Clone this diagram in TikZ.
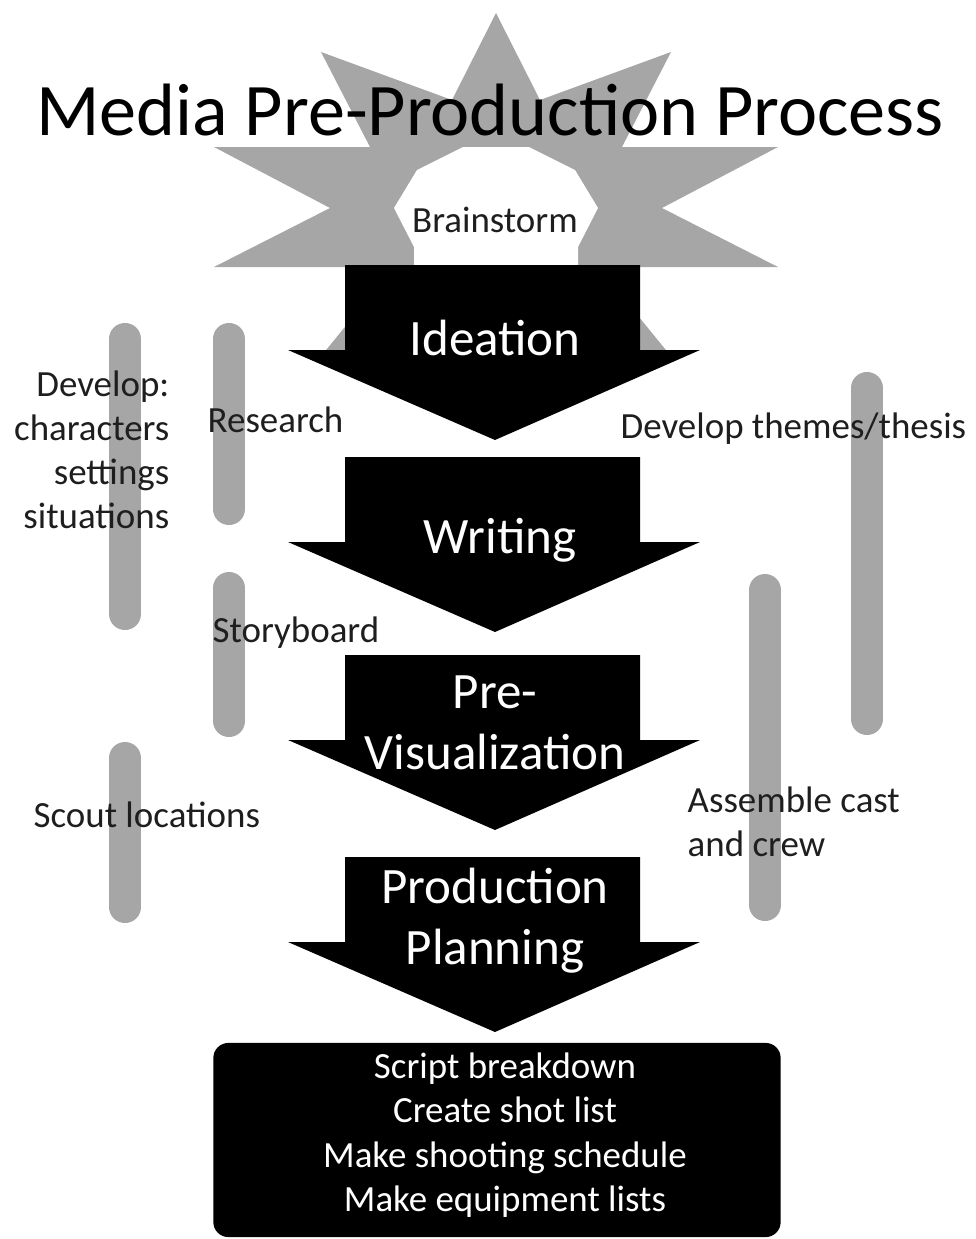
\documentclass[tikz,border=0pt]{standalone}
\usepackage{fontspec}
\setmainfont{Carlito}
\usetikzlibrary{positioning}
\definecolor{burstgray}{HTML}{A6A6A6}
\definecolor{bargray}{HTML}{A6A6A6}
\definecolor{inkgray}{HTML}{1E1E1E}
\tikzstyle{stage} = [fill=black]
\tikzstyle{stagetext} = [text=white, inner sep=0pt, align=center,
    font=\fontsize{14.5}{17.4}\selectfont]
\tikzstyle{bar} = [draw=bargray, line width=0.32cm, line cap=round]
\tikzstyle{task} = [text=inkgray, inner sep=0pt,
    font=\fontsize{10.5}{12.5}\selectfont]
\tikzstyle{checklist} = [rectangle, rounded corners=0.15cm, fill=black,
    minimum width=5.67cm, minimum height=1.94cm]
\tikzstyle{checktext} = [text=white, inner sep=0pt, align=center,
    font=\fontsize{10.5}{12.6}\selectfont]

\begin{document}
\begin{tikzpicture}[x=0.01cm, y=-0.01cm]
    \useasboundingbox (0,0) rectangle (976,1239);

    % Starburst behind the title
    \fill[burstgray] (496,13) -- (540,100) -- (671,52) -- (622,147) -- (778,147)
        -- (662,208) -- (778,267) -- (598,267) -- (670,355) -- (322,355)
        -- (394,267) -- (214,267) -- (330,208) -- (214,147) -- (370,147)
        -- (321,52) -- (452,100) -- cycle;
    \fill[white] (463,147) -- (529,147) -- (575,170) -- (598,208) -- (578,247)
        -- (578,300) -- (414,300) -- (414,247) -- (394,208) -- (417,170) -- cycle;

    % Place title and brainstorm
    \node[anchor=base, inner sep=0pt, font=\fontsize{21.1}{25}\selectfont] (title)
        at (490,135) {Media Pre-Production Process};
    \node[task, anchor=base] (brainstorm) at (495,232) {Brainstorm};

    % Draw stage arrows
    \foreach \ytop in {265,457,655,857}
        \fill[stage] (345,\ytop) -- (640,\ytop) -- (640,\ytop+85) -- (700,\ytop+85)
            -- (495,\ytop+175) -- (288,\ytop+85) -- (345,\ytop+85) -- cycle;

    % Place stage names
    \node[stagetext, anchor=base] (ideation) at (495,355) {Ideation};
    \node[stagetext, anchor=base] (writing) at (500,553) {Writing};
    \node[stagetext, anchor=north] (previs) at (495,675) {Pre-\\Visualization};
    \node[stagetext, anchor=north] (planning) at (495,867) {Production\\Planning};

    % Draw side bars
    \draw[bar] (125,339) -- (125,614);
    \draw[bar] (229,339) -- (229,509);
    \draw[bar] (229,588) -- (229,721);
    \draw[bar] (125,758) -- (125,907);
    \draw[bar] (867,388) -- (867,719);
    \draw[bar] (765,590) -- (765,905);

    % Place side tasks
    \node[task, anchor=north east, align=right] (develop) at (170,370)
        {Develop:\\characters\\settings\\situations};
    \node[task, anchor=base west] (research) at (207,432) {Research};
    \node[task, anchor=base west] (storyboard) at (212,642) {Storyboard};
    \node[task, anchor=base west] (scout) at (33,827) {Scout locations};
    \node[task, anchor=base west] (themes) at (620,438) {Develop themes/thesis};
    \node[task, anchor=north west, align=left] (cast) at (687,786)
        {Assemble cast\\and crew};

    % Place production checklist
    \node[checklist] (tasks) at (497,1140) {};
    \node[checktext] (tasklist) at (505,1135)
        {Script breakdown\\Create shot list\\Make shooting schedule\\Make equipment lists};
\end{tikzpicture}
\end{document}
